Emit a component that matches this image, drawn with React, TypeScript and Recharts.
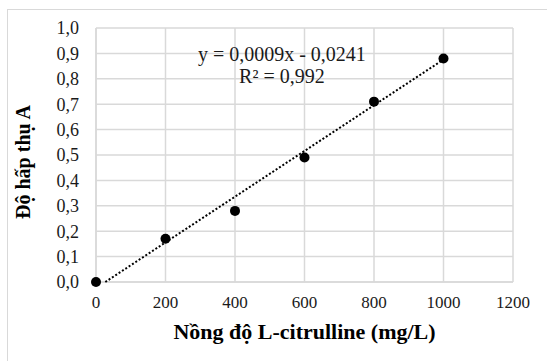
import { ComposedChart, Scatter, XAxis, YAxis, CartesianGrid, ReferenceDot } from "recharts"

const concentrations = [0, 200, 400, 600, 800, 1000]
const absorbance = [0, 0.17, 0.28, 0.49, 0.71, 0.88]
const xTicks = [0, 200, 400, 600, 800, 1000, 1200]
const yTicks = [0, 0.1, 0.2, 0.3, 0.4, 0.5, 0.6, 0.7, 0.8, 0.9, 1.0]

// trendline as printed on the chart
const slope = 0.0009
const intercept = -0.0241
const equationText = "y = 0,0009x - 0,0241"
const r2Text = "R² = 0,992"

const points = concentrations.map((x, i) => ({ x, y: absorbance[i] }))
// start where the line crosses y = 0 (Excel clips it at the axis)
const trendStart = -intercept / slope
const trend = [trendStart, 1000].map((x) => ({ x, y: slope * x + intercept }))

const font = "'Liberation Serif', 'Times New Roman', serif"
const grid = "#d9d9d9"

const Dot = (p: any) => <circle cx={p.cx} cy={p.cy} r={5} fill="#000" />

export default function App() {
  return (
    <div style={{ position: "fixed", left: 0, top: 0, width: 547, height: 361, overflow: "hidden", background: "#fff" }}>
      <div style={{ position: "absolute", left: 7, top: 9, width: 560, height: 380, borderTop: `1px solid ${grid}`, borderLeft: `1px solid ${grid}` }} />
      <div style={{ position: "absolute", left: 0, top: 0 }}>
        <ComposedChart width={547} height={361} margin={{ top: 28, right: 34, bottom: 19, left: 0 }}>
          <CartesianGrid stroke={grid} strokeWidth={1.5} />
          <XAxis
            type="number"
            dataKey="x"
            domain={[0, 1200]}
            ticks={xTicks}
            interval={0}
            height={60}
            tickLine={false}
            tickSize={0}
            tickMargin={14}
            axisLine={{ stroke: grid, strokeWidth: 1.5 }}
            tick={{ fill: "#1a1a1a", fontSize: 17, fontFamily: font }}
            label={{
              content: (props: any) => (
                <text x={props.viewBox.x + props.viewBox.width / 2} y={339} textAnchor="middle" fontFamily={font} fontSize={22} fontWeight="bold" fill="#000">
                  Nồng độ L-citrulline (mg/L)
                </text>
              ),
            }}
          />
          <YAxis
            type="number"
            dataKey="y"
            domain={[0, 1]}
            ticks={yTicks}
            interval={0}
            width={96}
            tickLine={false}
            tickSize={0}
            tickMargin={17}
            axisLine={{ stroke: grid, strokeWidth: 1.5 }}
            tickFormatter={(v: number) => v.toFixed(1).replace(".", ",")}
            tick={{ fill: "#1a1a1a", fontSize: 18, fontFamily: font }}
            label={{
              content: () => (
                <text x={30} y={162} transform="rotate(-90 30 162)" textAnchor="middle" fontFamily={font} fontSize={20} fontWeight="bold" fill="#000">
                  Độ hấp thụ A
                </text>
              ),
            }}
          />
          <Scatter
            data={trend}
            line={{ stroke: "#000", strokeWidth: 2, strokeDasharray: "2 2" }}
            shape={() => <g />}
            isAnimationActive={false}
          />
          <Scatter data={points} fill="#000" shape={Dot} isAnimationActive={false} />
          <ReferenceDot
            x={535}
            y={0.9}
            r={0}
            stroke="none"
            label={{ value: equationText, position: "center", fontFamily: font, fontSize: 20, fill: "#1a1a1a" }}
          />
          <ReferenceDot
            x={535}
            y={0.81}
            r={0}
            stroke="none"
            label={{ value: r2Text, position: "center", fontFamily: font, fontSize: 20, fill: "#1a1a1a" }}
          />
        </ComposedChart>
      </div>
    </div>
  )
}
